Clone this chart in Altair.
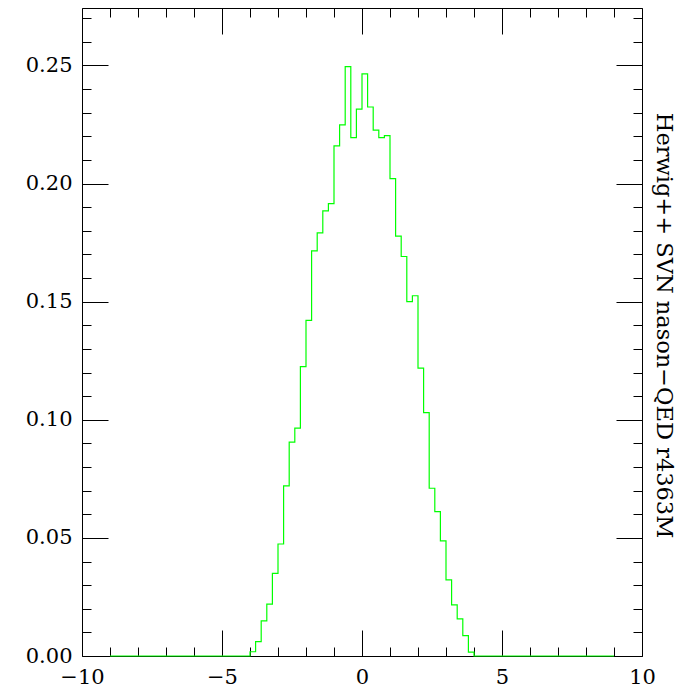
import altair as alt
import pandas as pd

# Histogram bin left edges (step-after) and heights
bin_left = [-9.0,
            -4.0, -3.8, -3.6, -3.4, -3.2, -3.0, -2.8, -2.6, -2.4, -2.2,
            -2.0, -1.8, -1.6, -1.4, -1.2, -1.0, -0.8, -0.6, -0.4, -0.2,
            0.0, 0.2, 0.4, 0.6, 0.8, 1.0, 1.2, 1.4, 1.6, 1.8,
            2.0, 2.2, 2.4, 2.6, 2.8, 3.0, 3.2, 3.4, 3.6, 3.8,
            4.0, 9.0]
heights = [0.0,
           0.0018, 0.0061, 0.0149, 0.0220, 0.0350, 0.0474, 0.0720, 0.0905, 0.0965, 0.1225,
           0.1421, 0.1715, 0.1791, 0.1884, 0.1915, 0.2159, 0.2248, 0.2495, 0.2194, 0.2315,
           0.2464, 0.2324, 0.2226, 0.2194, 0.2203, 0.2021, 0.1777, 0.1691, 0.1500, 0.1525,
           0.1219, 0.1030, 0.0710, 0.0611, 0.0487, 0.0322, 0.0216, 0.0157, 0.0086, 0.0016,
           0.0, 0.0]

x_major = [-10, -5, 0, 5, 10]
x_minor = [-10, -9, -8, -7, -6, -5, -4, -3, -2, -1, 0, 1, 2, 3, 4, 5, 6, 7, 8, 9, 10]
y_major = [0.0, 0.05, 0.10, 0.15, 0.20, 0.25]
y_minor = [0.00, 0.01, 0.02, 0.03, 0.04, 0.05, 0.06, 0.07, 0.08, 0.09,
           0.10, 0.11, 0.12, 0.13, 0.14, 0.15, 0.16, 0.17, 0.18, 0.19,
           0.20, 0.21, 0.22, 0.23, 0.24, 0.25, 0.26, 0.27]

side_title = "Herwig++ SVN nason\u2212QED r4363M"

W = 560
H = 648
FONT = "DejaVu Serif"

df = pd.DataFrame({"x": bin_left, "y": heights})

xs = alt.Scale(domain=[-10, 10], nice=False, zero=False)
ys = alt.Scale(domain=[0, 0.2743], nice=False, zero=False)

x_tick_size = {"condition": {"test": "datum.value % 5 === 0", "value": 26}, "value": 9}
y_tick_size = {"condition": {"test": "abs(round(datum.value*20) - datum.value*20) < 0.000001", "value": 26}, "value": 9}

common_tick = dict(labels=False, ticks=True, domain=True, grid=False, title=None,
                   tickColor="#000", domainColor="#000", tickWidth=1, domainWidth=1)


def layer(xaxis, yaxis, opacity):
    return alt.Chart(df).mark_line(interpolate="step-after", color="#00ff00",
                                   strokeWidth=1.2, opacity=opacity).encode(
        x=alt.X("x:Q", scale=xs, axis=xaxis),
        y=alt.Y("y:Q", scale=ys, axis=yaxis),
    )


# Labels layer (visible data line)
label_layer = layer(
    alt.Axis(orient="bottom", values=x_major, format="d", ticks=False, tickSize=0, domain=False,
             grid=False, title=None, labelFont=FONT, labelFontSize=21, labelColor="#000",
             labelPadding=10, labelFlush=False, labelOverlap=False),
    alt.Axis(orient="left", values=y_major, format=".2f", ticks=False, tickSize=0, domain=False,
             grid=False, title=None, labelFont=FONT, labelFontSize=21, labelColor="#000",
             labelPadding=10, labelFlush=False, labelOverlap=False),
    1,
)

# Inward ticks on bottom and left edges
ticks_bl = layer(
    alt.Axis(orient="top", offset=-H, values=x_minor, tickSize=x_tick_size, **common_tick),
    alt.Axis(orient="right", offset=-W, values=y_minor, tickSize=y_tick_size, **common_tick),
    0,
)

# Inward ticks on top and right edges
ticks_tr = layer(
    alt.Axis(orient="bottom", offset=-H, values=x_minor, tickSize=x_tick_size, **common_tick),
    alt.Axis(orient="left", offset=-W, values=y_minor, tickSize=y_tick_size, **common_tick),
    0,
)

# Side title on the right
title_layer = layer(
    None,
    alt.Axis(orient="right", labels=False, ticks=False, domain=False, grid=False,
             title=side_title, titleFont=FONT, titleFontSize=22.5, titleFontWeight="normal",
             titleColor="#000", titlePadding=9, titleY=317),
    0,
)

chart = alt.layer(title_layer, ticks_bl, ticks_tr, label_layer).resolve_axis(
    x="independent", y="independent"
).properties(
    width=W, height=H,
    padding={"left": 74, "top": 0, "right": 48, "bottom": 40},
    autosize=alt.AutoSizeParams(type="none"),
).configure_view(stroke=None)

chart.save("out.html", embed_options={"renderer": "svg", "actions": False})
